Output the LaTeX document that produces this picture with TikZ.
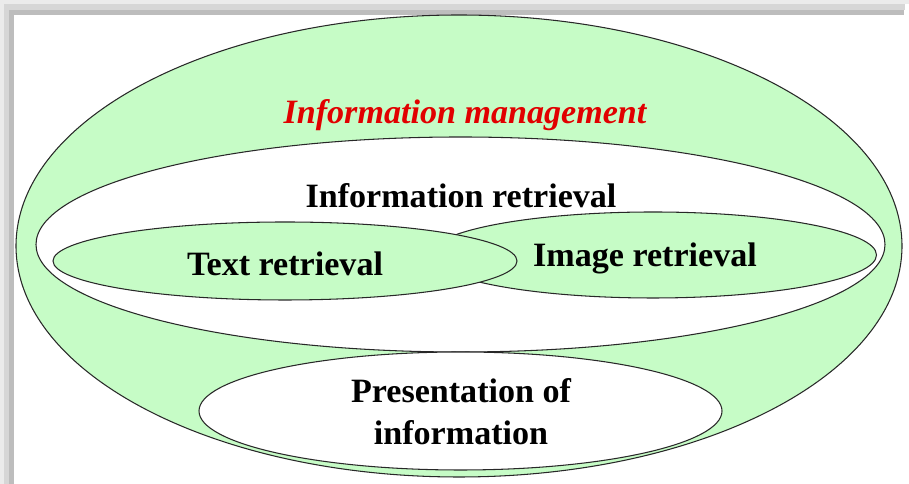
\documentclass[tikz,border=0pt]{standalone}
\usepackage{fontspec}
\setmainfont{Liberation Serif}[
    BoldFont={Liberation Serif Bold},
    BoldItalicFont={Liberation Serif Bold Italic}]
\definecolor{areagreen}{RGB}{198,252,198}
\definecolor{titlered}{RGB}{225,0,0}
\definecolor{edgegray}{RGB}{40,40,40}
\tikzset{
    area/.style={draw=edgegray, line width=0.6pt, fill=areagreen},
    hole/.style={draw=edgegray, line width=0.6pt, fill=white},
    label/.style={font=\fontsize{19.4}{23.9}\selectfont\bfseries, align=center, inner sep=0pt}
}
\begin{document}
\begin{tikzpicture}
    \useasboundingbox (0,0) rectangle (18.18,9.68);
    \fill[white] (0,0) rectangle (18.18,9.68);
    \fill[black!8] (0,9.6) rectangle (18.18,9.68);
    \fill[black!8] (0,0) rectangle (0.08,9.68);
    \fill[black!16] (0.08,9.48) rectangle (18.1,9.6);
    \fill[black!16] (0.08,0) rectangle (0.18,9.6);
    \fill[black!26] (0.18,9.38) rectangle (18.08,9.48);
    \fill[black!26] (0.18,0) rectangle (0.28,9.48);
    \filldraw[area] (9.18,4.76) ellipse [x radius=8.86, y radius=4.62];
    \filldraw[hole] (9.21,4.79) ellipse [x radius=8.49, y radius=2.15];
    \filldraw[area] (13.06,4.58) ellipse [x radius=4.47, y radius=0.86];
    \filldraw[area] (5.70,4.46) ellipse [x radius=4.64, y radius=0.78];
    \filldraw[hole] (9.21,1.46) ellipse [x radius=5.23, y radius=1.18];
    \node[label, text=titlered] (mgmt) at (9.30,7.38) {\itshape Information management};
    \node[label] (retr) at (9.22,5.76) {Information retrieval};
    \node[label] (text) at (5.70,4.40) {Text retrieval};
    \node[label] (image) at (12.90,4.52) {Image retrieval};
    \node[label] (pres) at (9.22,1.44) {Presentation of\\information};
\end{tikzpicture}
\end{document}
